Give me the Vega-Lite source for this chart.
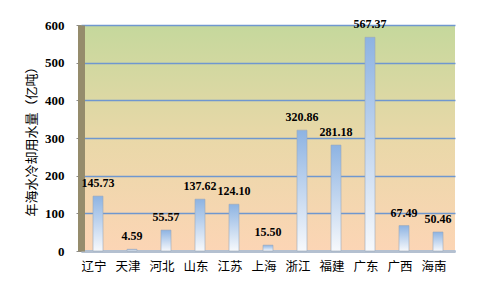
{
  "$schema": "https://vega.github.io/schema/vega-lite/v6.json",
  "autosize": "none",
  "width": 374,
  "height": 226,
  "padding": {"left": 81, "top": 25, "right": 27, "bottom": 39},
  "background": "white",
  "data": {"values": [
    {"region": "辽宁", "value": 145.73},
    {"region": "天津", "value": 4.59},
    {"region": "河北", "value": 55.57},
    {"region": "山东", "value": 137.62},
    {"region": "江苏", "value": 124.10},
    {"region": "上海", "value": 15.50},
    {"region": "浙江", "value": 320.86},
    {"region": "福建", "value": 281.18},
    {"region": "广东", "value": 567.37},
    {"region": "广西", "value": 67.49},
    {"region": "海南", "value": 50.46}
  ]},
  "config": {
    "view": {
      "stroke": null,
      "fill": {
        "gradient": "linear", "x1": 0, "y1": 0, "x2": 0, "y2": 1,
        "stops": [
          {"offset": 0, "color": "#c5d89c"},
          {"offset": 0.5, "color": "#e9d8a8"},
          {"offset": 1, "color": "#fcd5b5"}
        ]
      }
    }
  },
  "encoding": {
    "x": {
      "field": "region", "type": "nominal", "sort": null,
      "scale": {"paddingInner": 0.7, "paddingOuter": 0.35},
      "axis": {
        "title": null, "labelAngle": 0, "labelFont": "Noto Sans CJK SC",
        "labelFontSize": 12.5, "labelColor": "#000", "labelPadding": 9,
        "ticks": false, "domainColor": "#b4c0d0", "domainWidth": 3,
        "labelOffset": -4
      }
    },
    "y": {
      "field": "value", "type": "quantitative",
      "scale": {"domain": [0, 600], "nice": false},
      "axis": {
        "title": "年海水冷却用水量（亿吨）",
        "titleFont": "Noto Sans CJK SC", "titleFontSize": 13,
        "titleFontWeight": "normal", "titleColor": "#000", "titlePadding": 6,
        "values": [0, 100, 200, 300, 400, 500, 600],
        "labelFont": "Liberation Serif", "labelFontWeight": "bold",
        "labelFontSize": 13, "labelColor": "#000", "labelPadding": 12,
        "grid": true, "gridColor": "#6f97cf", "gridWidth": 1.5,
        "domainColor": "#958c6c", "domainWidth": 7,
        "tickColor": "#8c8c8c", "tickSize": 5
      }
    }
  },
  "layer": [
    {
      "mark": {
        "type": "bar", "size": 10,
        "stroke": "#9aa8bb", "strokeWidth": 0.6,
        "color": {
          "gradient": "linear", "x1": 0, "y1": 1, "x2": 0, "y2": 0,
          "stops": [
            {"offset": 0, "color": "#f7f9fc"},
            {"offset": 1, "color": "#8db3e2"}
          ]
        }
      }
    },
    {
      "mark": {
        "type": "text", "baseline": "bottom", "dy": -6,
        "font": "Liberation Serif", "fontWeight": "bold",
        "fontSize": 12, "color": "#000"
      },
      "encoding": {
        "text": {"field": "value", "type": "quantitative", "format": ".2f"}
      }
    }
  ]
}
